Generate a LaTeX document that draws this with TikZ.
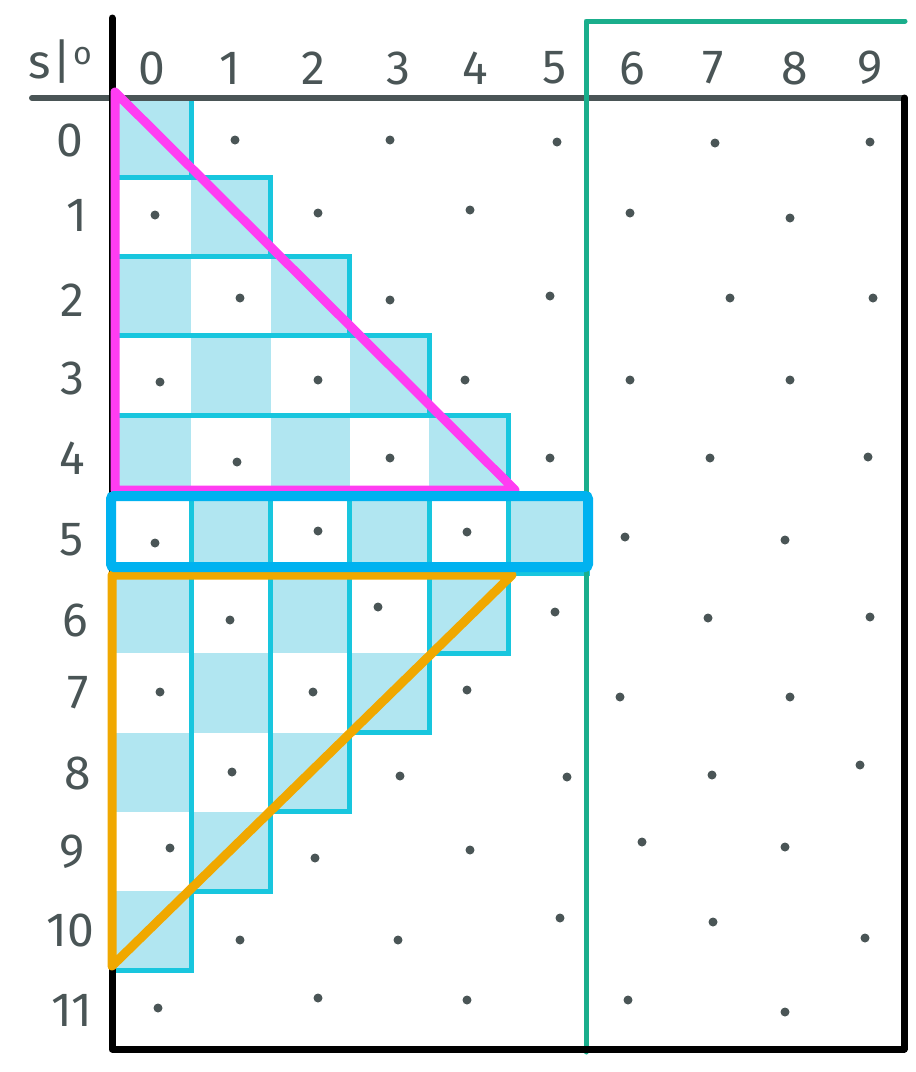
\documentclass[tikz,border=0pt]{standalone}
\usepackage{fontspec}
\setmainfont{Fira Sans}
\definecolor{ink}{HTML}{4A5556}
\definecolor{cellfill}{HTML}{B1E6F1}
\definecolor{cellline}{HTML}{18C6DE}
\definecolor{magentaL}{HTML}{FF3DF2}
\definecolor{orangeL}{HTML}{F0A800}
\definecolor{rowblue}{HTML}{00B2F0}
\definecolor{greenL}{HTML}{1AAE8C}
\begin{document}
\begin{tikzpicture}[x=1pt,y=-1pt,
  lbl/.style={text=ink,font=\fontsize{48}{48}\selectfont,inner sep=0pt,anchor=center},
  cellbox/.style={draw=cellline,line width=5},
  dotmark/.style={fill=ink},
  frameline/.style={draw=black,line width=7,line cap=round,line join=round},
  headline/.style={draw=ink,line width=6,line cap=round},
  tri/.style={line width=9,line join=round,line cap=round},
  divider/.style={draw=greenL,line width=5,line cap=round,line join=round},
  rowbox/.style={draw=rowblue,line width=10,rounded corners=3}]
\useasboundingbox (0,0) rectangle (916,1072);
\def\W{79.33}
% checkerboard fills
\foreach \r in {0,...,10}{
  \pgfmathtruncatemacro\k{min(\r,10-\r)}
  \foreach \c in {0,...,\k}{
    \pgfmathtruncatemacro\p{mod(\r+\c,2)}
    \ifnum\p=0
      \fill[cellfill] (112+\c*\W,98+\r*\W) rectangle (112+\c*\W+\W,98+\r*\W+\W);
    \fi
  }
}
% row bands (upper half)
\foreach \r in {0,...,5}{
  \draw[cellbox] (112,98+\r*\W) rectangle (112+\r*\W+\W,98+\r*\W+\W);
}
% column bands (lower half)
\foreach \c in {0,...,5}{
  \draw[cellbox] (112+\c*\W,98+5*\W) rectangle (112+\c*\W+\W,98+11*\W-\c*\W);
}
% dots
\foreach \x/\y in {235/140,390/140,557/142,715/143,870/142,
  155/215,318/213,470/210,630/213,790/218,
  240/298,390/300,550/296,730/298,873/298,
  160/382,318/380,465/380,630/380,790/380,
  237/462,390/458,550/458,710/458,868/457,
  155/543,318/531,467/532,625/537,785/540,
  230/620,378/607,555/612,708/618,870/617,
  160/692,313/692,467/690,620/697,790/697,
  232/772,400/776,567/777,712/775,860/765,
  170/848,315/858,470/850,642/842,785/847,
  240/940,398/940,560/918,713/922,865/938,
  158/1008,318/998,467/1000,628/1000,785/1012}{
  \fill[dotmark] (\x,\y) circle (4.5);
}
% header line
\draw[headline] (32,98) -- (905,98);
% green divider
\draw[divider] (586,1052) -- (586,21) -- (905,21);
% black frame
\draw[frameline] (112,18) -- (112,1049) -- (904,1049) -- (904,98);
% triangles
\draw[tri,draw=magentaL] (115,92) -- (515,490) -- (115,490) -- cycle;
\draw[tri,draw=orangeL] (112,575) -- (512,575) -- (112,966) -- cycle;
% row 5 box
\draw[rowbox] (111,496) rectangle (588,567);
% labels
\node[lbl] (so) at (60,62) {s\kern2pt|\kern1pt\raisebox{0.3em}{\fontsize{32}{32}\selectfont o}};
\foreach \c/\x in {0/152,1/230,2/313,3/398,4/475,5/555,6/632,7/713,8/795,9/870}{
  \node[lbl] (h\c) at (\x,68) {\c};
}
\foreach \r/\x/\y in {0/70/140,1/77/215,2/72/300,3/72/378,4/72/458,5/72/540,6/75/620,7/78/693,8/78/773,9/72/852,10/70/930,11/72/1010}{
  \node[lbl] (r\r) at (\x,\y) {\r};
}
\end{tikzpicture}
\end{document}
